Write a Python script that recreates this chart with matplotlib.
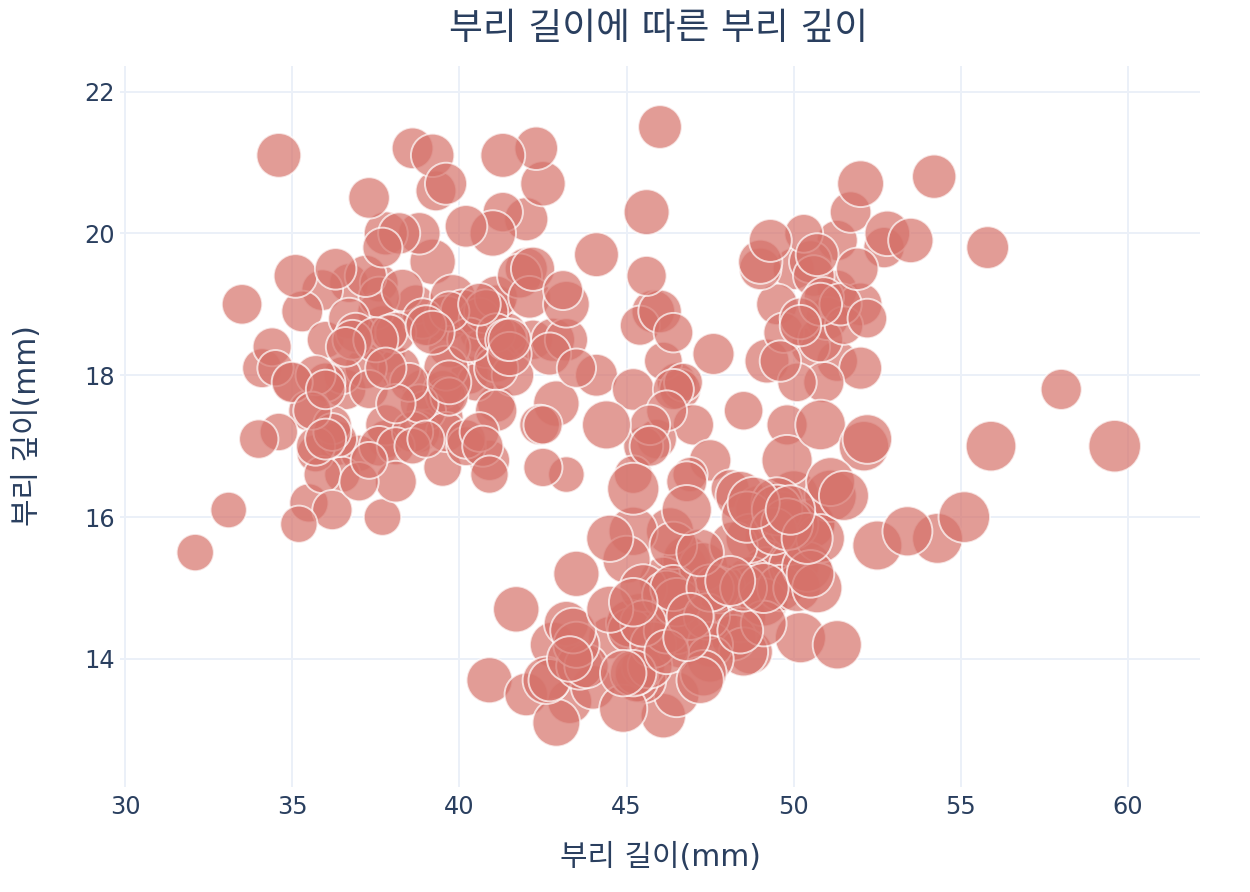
import matplotlib
matplotlib.use("Agg")
import matplotlib.pyplot as plt
import numpy as np

plt.rcParams['font.family'] = ['DejaVu Sans', 'Noto Sans CJK KR']

# Adelie
adelie_len = [39.1,39.5,40.3,36.7,39.3,38.9,39.2,34.1,42.0,37.8,37.8,41.1,38.6,34.6,36.6,38.7,42.5,34.4,46.0,
    37.8,37.7,35.9,38.2,38.8,35.3,40.6,40.5,37.9,40.5,
    39.5,37.2,39.5,40.9,36.4,39.2,38.8,42.2,37.6,39.8,36.5,40.8,36.0,44.1,37.0,39.6,41.1,37.5,36.0,42.3,
    39.6,40.1,35.0,42.0,34.5,41.4,39.0,40.6,36.5,37.6,35.7,41.3,37.6,41.1,36.4,41.6,35.5,41.1,
    35.9,41.8,33.5,39.7,39.6,45.8,35.5,42.8,40.9,37.2,36.2,42.1,34.6,42.9,36.7,35.1,
    37.3,41.3,36.3,36.9,38.3,38.9,35.7,41.1,34.0,39.6,36.2,40.8,38.1,40.3,33.1,43.2,
    35.0,41.0,37.7,37.8,37.9,39.7,38.6,38.2,38.1,43.2,38.1,45.6,39.7,42.2,39.6,42.7,
    38.6,37.3,35.7,41.1,36.2,37.7,40.2,41.4,35.2,40.6,38.8,41.5,39.0,44.1,38.5,43.1,
    36.8,37.5,38.1,41.1,35.6,40.2,37.0,39.7,40.2,40.6,32.1,40.7,37.3,39.0,39.2,36.6,36.0,37.8,36.0,41.5]
adelie_dep = [18.7,17.4,18.0,19.3,20.6,17.8,19.6,18.1,20.2,17.1,17.3,17.6,21.2,21.1,17.8,19.0,20.7,18.4,21.5,
    18.3,18.7,19.2,18.1,17.2,18.9,18.6,17.9,18.6,18.9,
    16.7,18.1,17.8,18.9,17.0,21.1,20.0,18.5,19.3,19.1,18.0,18.4,18.5,19.7,16.9,18.8,19.0,18.9,17.9,21.2,
    17.7,18.9,17.9,19.5,18.1,18.6,17.5,18.8,16.6,19.1,16.9,21.1,17.0,18.2,17.1,18.0,16.2,19.1,
    16.6,19.4,19.0,18.4,17.2,18.9,17.5,18.5,16.8,19.4,16.1,19.1,17.2,17.6,18.8,19.4,
    17.8,20.3,19.5,18.6,19.2,18.8,18.0,18.1,17.1,18.1,17.3,18.9,18.6,18.5,16.1,18.5,
    17.9,20.0,16.0,20.0,18.6,18.9,17.2,20.0,17.0,19.0,16.5,20.3,17.7,19.5,20.7,18.3,
    17.0,20.5,17.0,18.6,17.2,19.8,17.0,18.5,15.9,19.0,17.6,18.3,17.1,18.0,17.9,19.2,
    18.5,18.5,17.6,17.5,17.5,20.1,16.5,17.9,17.1,17.2,15.5,17.0,16.8,18.7,18.6,18.4,17.8,18.1,17.1,18.5]
adelie_mass = [3750,3800,3250,3450,3650,3625,4675,3475,4250,3300,3700,3200,3800,4400,3700,3450,4500,3325,4200,
    3400,3600,3800,3950,3800,3800,3550,3200,3150,3950,
    3250,3900,3300,3900,3325,4150,3950,3550,3300,4650,3150,3900,3100,4400,3000,4600,3425,2975,3450,4150,
    3500,4300,3450,4050,2900,3700,3550,3800,2850,3750,3150,4400,3600,4050,2850,3950,3350,4100,
    3050,4450,3600,3900,3550,4150,3700,4250,3700,3900,3550,4000,3200,4700,3800,4200,
    3350,3550,3800,3500,3950,3600,3550,4300,3400,4450,3300,4300,3700,4350,2900,4100,
    3725,4725,3075,4250,2925,3550,3750,3900,3175,4775,3825,4600,3200,4275,3900,4075,
    2900,3775,3350,3325,3150,3500,3450,3875,3050,4000,3275,4300,3050,4000,3325,3500,
    3500,4475,3425,3900,3175,3975,3400,4250,3400,3475,3050,3725,3000,3650,4250,3475,3450,3750,3700,4000]

# Chinstrap
chin_len = [46.5,50.0,51.3,45.4,52.7,45.2,46.1,51.3,46.0,51.3,
    46.6,51.7,47.0,52.0,45.9,50.5,50.3,58.0,46.4,49.2,
    42.4,48.5,43.2,50.6,46.7,52.0,50.5,49.5,46.4,52.8,
    40.9,54.2,42.5,51.0,49.7,47.5,47.6,52.0,46.9,53.5,
    49.0,46.2,50.9,45.5,50.9,50.8,50.1,49.0,51.5,49.8,
    48.1,51.4,45.7,50.7,42.5,52.2,45.2,49.3,50.2,45.6,
    51.9,46.8,45.7,55.8,43.5,49.6,50.8,50.2]
chin_dep = [17.9,19.5,19.2,18.7,19.8,17.8,18.2,18.2,18.9,19.9,
    17.8,20.3,17.3,18.1,17.1,19.6,20.0,17.8,18.6,18.2,
    17.3,17.5,16.6,19.4,17.9,19.0,18.4,19.0,17.8,20.0,
    16.6,20.8,16.7,18.8,18.6,16.8,18.3,20.7,16.6,19.9,
    19.5,17.5,19.1,17.0,17.9,18.5,17.9,19.6,18.7,17.3,
    16.4,19.0,17.3,19.7,17.3,18.8,16.6,19.9,18.8,19.4,
    19.5,16.5,17.0,19.8,18.1,18.2,19.0,18.7]
chin_mass = [3500,3900,3650,3525,3725,3950,3250,3750,4150,3700,
    3800,3775,3700,4050,3575,4050,3300,3700,3450,4400,
    3600,3400,2900,3800,3300,4150,3400,3800,3700,4550,
    3200,4300,3350,4100,3600,3900,3850,4800,2700,4500,
    3950,3650,3550,3500,3675,4450,3400,4300,3250,3675,
    3325,3950,3600,4050,3350,3450,3250,4050,3800,3525,
    3950,3650,3650,4000,3400,3775,4100,3775]

# Gentoo
gentoo_len = [46.1,50.0,48.7,50.0,47.6,46.5,45.4,46.7,43.3,46.8,
    40.9,49.0,45.5,48.4,45.8,49.3,42.0,49.2,46.2,48.7,
    50.2,45.1,46.5,46.3,42.9,46.1,44.5,47.8,48.2,50.0,
    47.3,42.8,45.1,59.6,49.1,48.4,42.6,44.4,44.0,48.7,
    42.7,49.6,45.3,49.6,50.5,43.6,45.5,50.5,44.9,45.2,
    46.6,48.5,45.1,50.1,46.5,45.0,43.8,45.5,43.2,50.4,
    45.3,46.2,45.7,54.3,45.8,49.8,46.2,49.5,43.5,50.7,
    47.7,46.4,48.2,46.5,46.4,48.6,47.5,51.1,45.2,45.2,
    49.1,52.5,47.4,50.0,44.9,50.8,43.4,51.3,47.5,52.1,
    47.5,52.2,45.5,49.5,44.5,50.8,49.4,46.9,48.4,51.1,
    48.5,55.9,47.2,49.1,47.3,46.8,41.7,53.4,43.3,48.1,
    50.5,49.8,43.5,51.5,46.2,55.1,44.5,48.8,47.2,46.8,
    50.4,45.2,49.9]
gentoo_dep = [13.2,16.3,14.1,15.2,14.5,13.5,14.6,15.3,13.4,15.4,
    13.7,16.1,13.7,14.6,14.6,15.7,13.5,15.2,14.5,15.1,
    14.3,14.5,14.5,15.8,13.1,15.1,14.3,15.0,14.3,15.3,
    15.3,14.2,14.5,17.0,14.8,16.3,13.7,17.3,13.6,15.7,
    13.7,16.0,13.7,15.0,15.9,13.9,13.9,15.9,13.3,15.8,
    14.2,14.1,14.4,15.0,14.4,15.4,13.9,15.0,14.5,15.3,
    13.8,14.9,13.9,15.7,14.2,16.8,14.4,16.2,14.2,15.0,
    15.0,15.6,15.6,14.8,15.0,16.0,14.2,16.3,13.8,16.4,
    14.5,15.6,14.6,15.9,13.8,17.3,14.4,14.2,14.0,17.0,
    15.0,17.1,14.5,16.1,14.7,15.7,15.8,14.6,14.4,16.5,
    15.0,17.0,15.5,15.0,13.8,16.1,14.7,15.8,14.0,15.1,
    15.2,15.9,15.2,16.3,14.1,16.0,15.7,16.2,13.7,14.3,
    15.7,14.8,16.1]
gentoo_mass = [4500,5700,4450,5700,5400,4550,4800,5200,4400,5150,
    4650,5550,4650,5850,4200,5850,4150,6300,4800,5350,
    5700,5000,4400,5050,5000,5100,4100,5650,4600,5550,
    5250,4700,5050,6050,5150,5400,4950,5250,4350,5350,
    3950,5700,4300,4750,5550,4900,4200,5400,5100,5300,
    4850,5300,4400,5000,4900,5050,4300,5000,4450,5550,
    4200,5300,4400,5650,4700,5700,4650,5800,4700,5550,
    4750,5000,5100,5200,4700,5800,4600,6000,4750,5950,
    4625,5450,4725,5350,4750,5600,4600,5300,4875,5550,
    4950,5400,4750,5650,4850,5200,4925,4875,4625,5250,
    4850,5600,4975,5500,4725,5500,4700,5500,4575,5500,
    5000,5950,4650,5500,4375,5850,4875,6000,4925,4850,
    5750,5200,5400]

x_ticks = [30, 35, 40, 45, 50, 55, 60]
y_ticks = [14, 16, 18, 20, 22]
title = "부리 길이에 따른 부리 깊이"
x_label = "부리 길이(mm)"
y_label = "부리 깊이(mm)"

bill_len = np.array(adelie_len + chin_len + gentoo_len)
bill_dep = np.array(adelie_dep + chin_dep + gentoo_dep)
mass = np.array(adelie_mass + chin_mass + gentoo_mass)

W, H = 1250, 892
fig = plt.figure(figsize=(W/100, H/100), dpi=100)
fig.patch.set_facecolor('white')
ax = fig.add_axes([120/W, 1-787/H, 1080/W, 721/H])
ax.set_xlim(29.85, 62.15)
ax.set_ylim(12.195, 22.36)

ax.scatter(bill_len, bill_dep, s=mass*0.235, c='#D6726A', alpha=0.7,
           edgecolors='white', linewidths=1.4, zorder=3)

ax.set_xticks(x_ticks)
ax.set_yticks(y_ticks)
ax.grid(True, color='#EBF0F8', linewidth=1.44, zorder=0)
ax.set_axisbelow(True)
for sp in ax.spines.values():
    sp.set_visible(False)
ax.tick_params(length=0, labelsize=17.3, labelcolor='#2a3f5f')
ax.tick_params(axis='x', pad=6)
ax.tick_params(axis='y', pad=4)

fig.text(659/W, 1-28/H, title, ha='center', va='center', fontsize=26.5, color='#2a3f5f')
fig.text(660/W, 1-857/H, x_label, ha='center', va='center', fontsize=21.5, color='#2a3f5f')
fig.text(27/W, 1-426/H, y_label, ha='center', va='center', rotation=90, fontsize=21.5, color='#2a3f5f')

fig.savefig('out.png', dpi=100, facecolor='white')
